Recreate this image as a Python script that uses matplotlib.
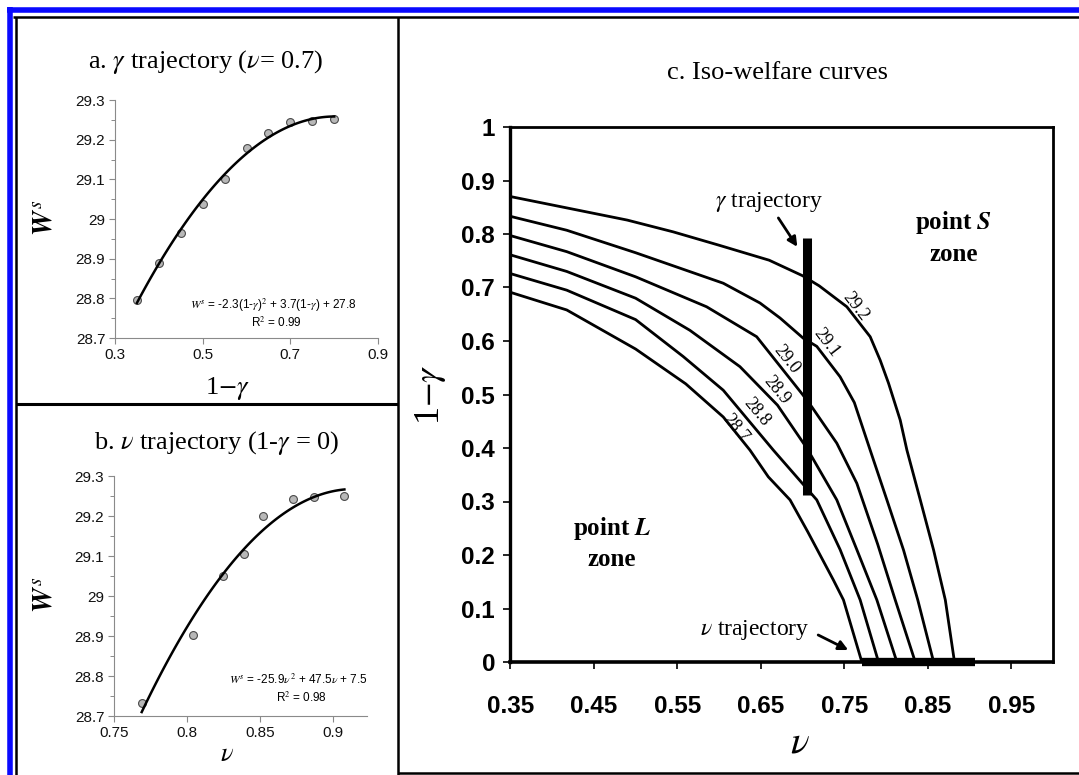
import matplotlib
matplotlib.use("Agg")
import matplotlib.pyplot as plt
import numpy as np
from matplotlib.lines import Line2D
from matplotlib.ticker import MultipleLocator, FormatStrFormatter

plt.rcParams['font.family'] = ['Liberation Sans', 'DejaVu Sans']
plt.rcParams['mathtext.fontset'] = 'stix'

# panel a: gamma trajectory (nu = 0.7)
one_minus_gamma = [0.35, 0.40, 0.45, 0.50, 0.55, 0.60, 0.65, 0.70, 0.75, 0.80]
welfare_a = [28.797, 28.889, 28.964, 29.038, 29.100, 29.178, 29.216, 29.245, 29.248, 29.251]

# panel b: nu trajectory (1-gamma = 0)
nu_b = [0.769, 0.804, 0.825, 0.839, 0.852, 0.873, 0.887, 0.908]
welfare_b = [28.732, 28.902, 29.050, 29.106, 29.200, 29.242, 29.247, 29.249]

# panel c: iso-welfare curves (nu, 1-gamma)
levels = ['28.7', '28.8', '28.9', '29.0', '29.1', '29.2']
iso_nu = {
    '29.2': [0.35, 0.42, 0.49, 0.545, 0.60, 0.66, 0.70, 0.72, 0.753, 0.781, 0.793, 0.803, 0.817, 0.825, 0.841, 0.857, 0.871, 0.882],
    '29.1': [0.35, 0.4175, 0.50, 0.605, 0.649, 0.673, 0.701, 0.717, 0.745, 0.762, 0.781, 0.801, 0.821, 0.838, 0.857],
    '29.0': [0.35, 0.4175, 0.50, 0.585, 0.645, 0.70, 0.711, 0.741, 0.765, 0.790, 0.811, 0.835],
    '28.9': [0.35, 0.4175, 0.50, 0.565, 0.625, 0.67, 0.705, 0.741, 0.765, 0.789, 0.813],
    '28.8': [0.35, 0.4175, 0.50, 0.557, 0.605, 0.665, 0.717, 0.745, 0.769, 0.791],
    '28.7': [0.35, 0.4175, 0.50, 0.56, 0.605, 0.637, 0.659, 0.685, 0.706, 0.737, 0.749, 0.771],
}
iso_g = {
    '29.2': [0.870, 0.848, 0.826, 0.804, 0.779, 0.751, 0.722, 0.703, 0.664, 0.608, 0.564, 0.521, 0.452, 0.396, 0.303, 0.209, 0.116, 0.0],
    '29.1': [0.833, 0.807, 0.765, 0.708, 0.671, 0.643, 0.605, 0.590, 0.533, 0.485, 0.396, 0.303, 0.209, 0.116, 0.0],
    '29.0': [0.797, 0.767, 0.72, 0.664, 0.608, 0.50, 0.477, 0.409, 0.334, 0.22, 0.116, 0.0],
    '28.9': [0.761, 0.730, 0.68, 0.62, 0.552, 0.48, 0.40, 0.303, 0.21, 0.116, 0.0],
    '28.8': [0.726, 0.695, 0.64, 0.571, 0.508, 0.396, 0.303, 0.21, 0.116, 0.0],
    '28.7': [0.691, 0.658, 0.585, 0.52, 0.458, 0.396, 0.346, 0.303, 0.244, 0.153, 0.116, 0.0],
}
# centre of each level's number, just above its curve
label_pos = {'29.2': (0.763, 0.664), '29.1': (0.729, 0.596), '29.0': (0.681, 0.565),
             '28.9': (0.669, 0.508), '28.8': (0.645, 0.468), '28.7': (0.620, 0.436)}

gamma_bar_nu = 0.705
gamma_bar_g = [0.312, 0.792]
nu_bar = [0.771, 0.907]

W, H = 1079, 775
fig = plt.figure(figsize=(W / 100, H / 100), dpi=100)


def fx(x):
    return x / W


def fy(y):
    return 1 - y / H


def frame_line(x0, y0, x1, y1, color='black', lw=1.5):
    fig.add_artist(Line2D([fx(x0), fx(x1)], [fy(y0), fy(y1)], color=color, lw=lw,
                          transform=fig.transFigure, solid_capstyle='butt'))


# outer frame
frame_line(7, 9.5, W, 9.5, color='#0a0aff', lw=4)
frame_line(9.5, 7, 9.5, H, color='#0a0aff', lw=4)
frame_line(13, 17, W, 17, lw=1.8)
frame_line(16, 17, 16, H, lw=1.8)
frame_line(398, 17, 398, H, lw=1.8)
frame_line(16, 404, 398, 404, lw=2.2)
frame_line(398, 773, W, 773, lw=1.8)

serif = ['Liberation Serif', 'DejaVu Serif']


def small_panel(rect, x, y, xlim, xticks, title, title_xy, xlabel, xlabel_y, ylabel_y, eq, eq_pos):
    ax = fig.add_axes(rect)
    ax.scatter(x, y, s=32, c='#b8b8b8', edgecolors='#4a4a4a', linewidths=0.8, zorder=3)
    coef = np.polyfit(x, y, 2)
    xx = np.linspace(x[0], x[-1], 100)
    ax.plot(xx, np.polyval(coef, xx), color='black', lw=1.8, zorder=4)
    ax.set_xlim(*xlim)
    ax.set_ylim(28.7, 29.3)
    ax.set_xticks(xticks)
    ax.set_yticks(np.arange(28.7, 29.31, 0.1))
    ax.yaxis.set_minor_locator(MultipleLocator(0.05))
    ax.xaxis.set_major_formatter(FormatStrFormatter('%g'))
    ax.yaxis.set_major_formatter(FormatStrFormatter('%g'))
    for s in ['top', 'right']:
        ax.spines[s].set_visible(False)
    for s in ['left', 'bottom']:
        ax.spines[s].set_color('#8a8a8a')
        ax.spines[s].set_linewidth(0.8)
    ax.tick_params(labelsize=11, colors='#8a8a8a', labelcolor='#111111', length=4, width=0.8, pad=3)
    ax.tick_params(which='minor', length=3, width=0.7, colors='#8a8a8a')
    ax.patch.set_alpha(0)
    fig.text(fx(title_xy[0]), fy(title_xy[1]), title, ha='center', va='center', fontsize=19, family=serif)
    fig.text(fx(227), fy(xlabel_y), xlabel, ha='center', va='center', fontsize=19, family=serif)
    fig.text(fx(45), fy(ylabel_y), r'$\mathbfit{W}^{\,s}$', ha='center', va='center', fontsize=20, rotation=90)
    fig.text(fx(eq_pos[0]), fy(eq_pos[1]), eq[0], ha='center', va='center', fontsize=8.5)
    fig.text(fx(eq_pos[0] + 3), fy(eq_pos[1] + 18), eq[1], ha='center', va='center', fontsize=8.5)
    return ax


small_panel([fx(115), fy(338), (378 - 115) / W, (338 - 100) / H],
            one_minus_gamma, welfare_a, (0.3, 0.9), [0.3, 0.5, 0.7, 0.9],
            r'a. $\gamma$ trajectory ($\nu$= 0.7)', (206, 62), r'1$-\gamma$', 388, 218,
            [r'$W^s$ = -2.3(1-$\gamma$)$^2$ + 3.7(1-$\gamma$) + 27.8', r'R$^2$ = 0.99'], (273, 305))

small_panel([fx(114), fy(716), (367 - 114) / W, (716 - 476) / H],
            nu_b, welfare_b, (0.75, 0.9235), [0.75, 0.8, 0.85, 0.9],
            r'b. $\nu$ trajectory (1-$\gamma$ = 0)', (217, 443), r'$\nu$', 755, 595,
            [r'$W^s$ = -25.9$\nu^2$ + 47.5$\nu$ + 7.5', r'R$^2$ = 0.98'], (298, 680))

# panel c
axc = fig.add_axes([fx(510.4), fy(662), (1053 - 510.4) / W, (662 - 127) / H])
for lev in levels:
    axc.plot(iso_nu[lev], iso_g[lev], color='black', lw=2.0, zorder=2)

axc.set_xlim(0.35, 1.0)
axc.set_ylim(0, 1)
axc.set_xticks(np.arange(0.35, 0.96, 0.1))
axc.set_yticks(np.arange(0, 1.01, 0.1))
axc.xaxis.set_major_formatter(FormatStrFormatter('%.2f'))
axc.yaxis.set_major_formatter(FormatStrFormatter('%g'))
axc.tick_params(direction='out', length=5, width=1.2, labelsize=17.5, pad=6)
axc.tick_params(axis='x', pad=19)
for lbl in axc.get_xticklabels() + axc.get_yticklabels():
    lbl.set_fontweight('bold')
for s in axc.spines.values():
    s.set_linewidth(2.0)
axc.spines['bottom'].set_linewidth(2.6)
axc.spines['left'].set_linewidth(2.4)

fig.canvas.draw()
for lev in levels:
    v, g = label_pos[lev]
    p0 = axc.transData.transform((v - 0.01, np.interp(v - 0.01, iso_nu[lev], iso_g[lev])))
    p1 = axc.transData.transform((v + 0.01, np.interp(v + 0.01, iso_nu[lev], iso_g[lev])))
    ang = np.degrees(np.arctan2(p1[1] - p0[1], p1[0] - p0[0]))
    axc.text(v, g, lev, ha='center', va='center', rotation=ang, rotation_mode='anchor',
             fontsize=13, family=serif, zorder=3)

axc.plot([gamma_bar_nu, gamma_bar_nu], gamma_bar_g, color='black', lw=6.5, solid_capstyle='butt', zorder=4)
axc.plot(nu_bar, [0, 0], color='black', lw=6, solid_capstyle='butt', zorder=4, clip_on=False)

axc.text(0.595, 0.860, r'$\gamma$ trajectory', ha='left', va='center', fontsize=17, family=serif)
axc.annotate('', xy=(0.6937, 0.776), xytext=(0.671, 0.830),
             arrowprops=dict(arrowstyle='-|>', lw=2, color='black', mutation_scale=14, shrinkA=0, shrinkB=0))
axc.text(0.708, 0.060, r'$\nu$ trajectory', ha='right', va='center', fontsize=17, family=serif)
axc.annotate('', xy=(0.7547, 0.0224), xytext=(0.7187, 0.0505),
             arrowprops=dict(arrowstyle='-|>', lw=2, color='black', mutation_scale=14, shrinkA=0, shrinkB=0))

axc.text(0.8806, 0.822, r'point $\mathbfit{S}$', ha='center', va='center', fontsize=18,
         family=serif, fontweight='bold')
axc.text(0.8806, 0.761, 'zone', ha='center', va='center', fontsize=18, family=serif, fontweight='bold')
axc.text(0.4715, 0.250, r'point $\mathbfit{L}$', ha='center', va='center', fontsize=18,
         family=serif, fontweight='bold')
axc.text(0.4715, 0.191, 'zone', ha='center', va='center', fontsize=18, family=serif, fontweight='bold')

fig.text(fx(777), fy(73), 'c. Iso-welfare curves', ha='center', va='center', fontsize=19, family=serif)
fig.text(fx(430), fy(395), r'1$-\gamma$', ha='center', va='center', fontsize=26, family=serif, rotation=90)
fig.text(fx(800), fy(743), r'$\nu$', ha='center', va='center', fontsize=28, family=serif)

fig.savefig('out.png', dpi=100)
